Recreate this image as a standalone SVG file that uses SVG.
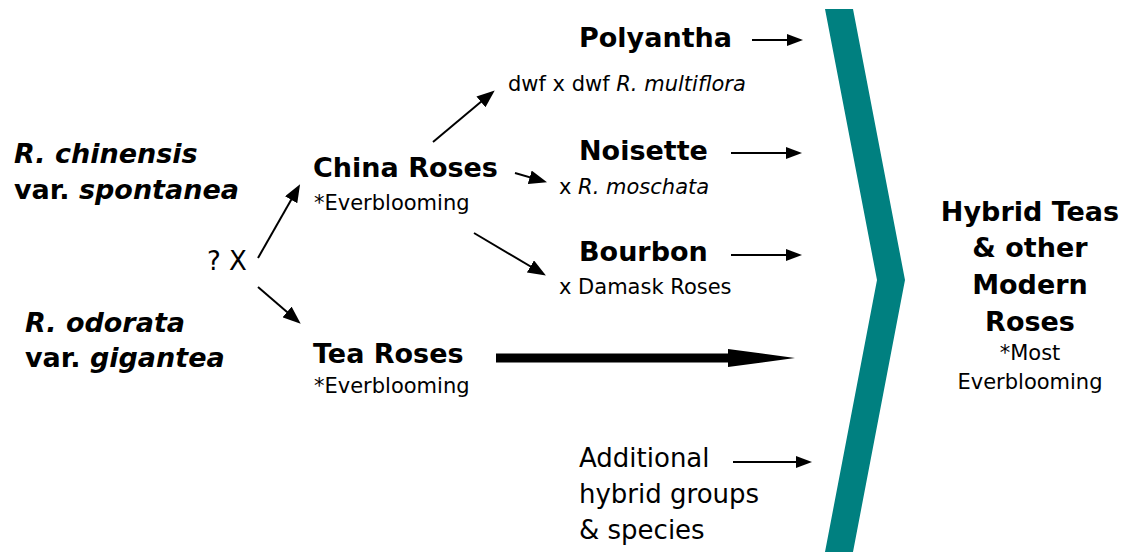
<svg xmlns="http://www.w3.org/2000/svg" width="1130" height="552" viewBox="0 0 1130 552">
<defs>
<marker id="ah" markerUnits="userSpaceOnUse" markerWidth="18" markerHeight="14" refX="13" refY="7" orient="auto">
<path d="M0,0 L18,7 L0,14 Z" fill="#000"/>
</marker>
<marker id="ahs" markerUnits="userSpaceOnUse" markerWidth="16" markerHeight="12" refX="12" refY="6" orient="auto">
<path d="M0,0 L16,6 L0,12 Z" fill="#000"/>
</marker>
<style>
text{font-family:"DejaVu Sans","Verdana",sans-serif;fill:#000}
.b{font-weight:bold;font-size:27px}
.r{font-size:21px}
.m{font-size:26px}
.c{text-anchor:middle}
.ln{stroke:#000;stroke-width:2;fill:none;marker-end:url(#ah)}
.hs{stroke:#000;stroke-width:2;fill:none;marker-end:url(#ahs)}
</style>
</defs>
<rect width="1130" height="552" fill="#fff"/>
<g id="chevron"><polygon points="825,9 853,9 905,280 853,552 825,552 877,280" fill="#008080"/></g>
<g id="connectors">
<line class="ln" x1="258" y1="258" x2="297.6" y2="188.5"/>
<line class="ln" x1="258" y1="287" x2="296.9" y2="320.4"/>
<line class="ln" x1="433" y1="142" x2="490.9" y2="93.6"/>
<line class="ln" x1="515" y1="173" x2="542.2" y2="180.9"/>
<line class="ln" x1="474" y1="233" x2="541.6" y2="273"/>
<line class="hs" x1="752" y1="40" x2="799" y2="40"/>
<line class="hs" x1="731" y1="153" x2="798" y2="153"/>
<line class="hs" x1="731" y1="255" x2="798" y2="255"/>
<line class="hs" x1="733" y1="462" x2="808" y2="462"/>
<path d="M496,353.5 H728 V349 L795,358 L728,367 V362.5 H496 Z" fill="#000"/>
</g>
<g id="chinensis"><text class="b" x="14" y="163" font-style="italic">R. chinensis</text><text class="b" x="14" y="199">var. <tspan font-style="italic">spontanea</tspan></text></g>
<g id="cross"><text x="207" y="270" style="font-size:26px">? X</text></g>
<g id="odorata"><text class="b" x="25" y="332" font-style="italic">R. odorata</text><text class="b" x="25" y="367">var. <tspan font-style="italic">gigantea</tspan></text></g>
<g id="china"><text class="b" x="313" y="177">China Roses</text><text class="r" x="314" y="210">*Everblooming</text></g>
<g id="tea"><text class="b" x="313" y="363">Tea Roses</text><text class="r" x="314" y="393">*Everblooming</text></g>
<g id="polyantha"><text class="b" x="579" y="47">Polyantha</text><text class="r" x="508" y="91">dwf x dwf <tspan font-style="italic">R. multiflora</tspan></text></g>
<g id="noisette"><text class="b" x="579" y="160">Noisette</text><text class="r" x="559" y="194">x <tspan font-style="italic">R. moschata</tspan></text></g>
<g id="bourbon"><text class="b" x="579" y="261">Bourbon</text><text class="r" x="559" y="294">x Damask Roses</text></g>
<g id="additional"><text class="m" x="579" y="467">Additional</text><text class="m" x="579" y="503">hybrid groups</text><text class="m" x="579" y="539">&amp; species</text></g>
<g id="modern"><text class="b c" x="1030" y="221">Hybrid Teas</text><text class="b c" x="1030" y="257">&amp; other</text><text class="b c" x="1030" y="294">Modern</text><text class="b c" x="1030" y="331">Roses</text><text class="r c" x="1030" y="360">*Most</text><text class="r c" x="1030" y="389">Everblooming</text></g>
</svg>
